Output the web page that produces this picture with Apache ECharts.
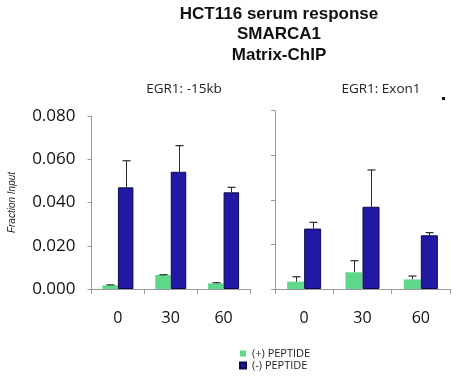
<!DOCTYPE html>
<html><head><meta charset="utf-8">
<script src="https://cdn.jsdelivr.net/npm/echarts@6/dist/echarts.min.js"></script>
<style>html,body{margin:0;padding:0;background:#fff}#c{width:456px;height:384px}</style>
</head><body><div id="c"></div>
<script>
const categories = ['0', '30', '60'];
const panelTitles = ['EGR1: -15kb', 'EGR1: Exon1'];
const seriesNames = ['(+) PEPTIDE', '(-) PEPTIDE'];
const yTicks = ['0.000', '0.020', '0.040', '0.060', '0.080'];
// Left panel (EGR1: -15kb)
const plus15kb = [0.0017, 0.0065, 0.0026];
const plus15kbErr = [0.0002, 0.0001, 0.0003];
const minus15kb = [0.047, 0.0542, 0.0447];
const minus15kbErr = [0.0123, 0.0121, 0.0023];
// Right panel (EGR1: Exon1)
const plusExon1 = [0.0033, 0.0075, 0.0043];
const plusExon1Err = [0.0022, 0.0052, 0.0015];
const minusExon1 = [0.0271, 0.0369, 0.0241];
const minusExon1Err = [0.0028, 0.0165, 0.0012];

const GREEN = '#5ed98a', BLUE = '#2119a3';
const chart = echarts.init(document.getElementById('c'));

function errSeries(gi, vals, errs, side, bw) {
  return {
    type: 'custom', xAxisIndex: gi, yAxisIndex: gi, z: 5, silent: true,
    data: vals.map((v, i) => [i, v, v + errs[i]]),
    renderItem: function (params, api) {
      const top = api.coord([api.value(0), api.value(2)]);
      const base = api.coord([api.value(0), api.value(1)]);
      const x = Math.round(top[0] + side * bw / 2) + 0.5;
      const cap = 4;
      return {
        type: 'group', children: [
          { type: 'line', shape: { x1: x, y1: base[1], x2: x, y2: top[1] }, style: { stroke: '#2a2a2a', lineWidth: 1 } },
          { type: 'line', shape: { x1: x - cap, y1: top[1], x2: x + cap, y2: top[1] }, style: { stroke: '#2a2a2a', lineWidth: 1.2 } }
        ]
      };
    }
  };
}

const grids = [
  { left: 91.5, top: 116, width: 158.5, height: 173 },
  { left: 275, top: 110.7, width: 175, height: 178.3 }
];
const bws = [15.5, 17];

function xAxis(gi) {
  return {
    type: 'category', gridIndex: gi, data: categories,
    axisLine: { lineStyle: { color: '#9a9a9a', width: 1 } },
    axisTick: { show: true, length: 5, lineStyle: { color: '#9a9a9a' } },
    axisLabel: { color: '#111', fontSize: 16, fontFamily: 'Open Sans', margin: 21 }
  };
}
function yAxis(gi, showLabels) {
  return {
    type: 'value', gridIndex: gi, min: 0, max: 0.08, interval: 0.02,
    splitLine: { show: false },
    axisLine: { show: true, lineStyle: { color: '#9a9a9a', width: 1 } },
    axisTick: { show: true, length: 4, lineStyle: { color: '#9a9a9a' } },
    axisLabel: { show: showLabels, color: '#111', fontSize: 17, fontFamily: 'Open Sans', margin: 16,
      formatter: (v) => yTicks[Math.round(v / 0.02)] },
    name: showLabels ? 'Fraction Input' : '', nameLocation: 'middle', nameGap: 74,
    nameTextStyle: { fontSize: 10, fontStyle: 'italic', fontFamily: 'Liberation Sans', color: '#222' }
  };
}

function bars(gi, name, vals, color, border) {
  return {
    type: 'bar', name: name, xAxisIndex: gi, yAxisIndex: gi, data: vals,
    barWidth: bws[gi], barGap: '0%',
    itemStyle: { color: color, borderColor: border || color, borderWidth: border ? 1 : 0 }
  };
}

chart.setOption({
  animation: false,
  title: [
    { text: 'HCT116 serum response\nSMARCA1\nMatrix-ChIP', left: 274, top: -1, textAlign: 'center',
      textStyle: { fontFamily: 'Liberation Sans', fontWeight: 'bold', fontSize: 17, lineHeight: 20.5, color: '#111' } },
    { text: panelTitles[0], left: 179, top: 77, textAlign: 'center',
      textStyle: { fontFamily: 'Open Sans', fontWeight: 'normal', fontSize: 13.5, color: '#222' } },
    { text: panelTitles[1], left: 376, top: 77, textAlign: 'center',
      textStyle: { fontFamily: 'Open Sans', fontWeight: 'normal', fontSize: 13.5, color: '#222' } }
  ],
  legend: {
    data: seriesNames, orient: 'vertical', left: 239, top: 348, padding: 0,
    itemWidth: 6, itemHeight: 6, itemGap: 1, icon: 'rect',
    textStyle: { fontSize: 11, fontFamily: 'Open Sans', color: '#222', padding: [0, 0, 0, 1] }
  },
  grid: grids,
  xAxis: [xAxis(0), xAxis(1)],
  yAxis: [yAxis(0, true), yAxis(1, false)],
  graphic: [{ type: 'rect', left: 442, top: 97, shape: { width: 3, height: 3 }, style: { fill: '#111' } }],
  series: [
    bars(0, seriesNames[0], plus15kb, GREEN, null),
    bars(0, seriesNames[1], minus15kb, BLUE, '#0c0a4c'),
    bars(1, seriesNames[0], plusExon1, GREEN, null),
    bars(1, seriesNames[1], minusExon1, BLUE, '#0c0a4c'),
    errSeries(0, plus15kb, plus15kbErr, -1, bws[0]),
    errSeries(0, minus15kb, minus15kbErr, 1, bws[0]),
    errSeries(1, plusExon1, plusExon1Err, -1, bws[1]),
    errSeries(1, minusExon1, minusExon1Err, 1, bws[1])
  ]
});
</script></body></html>
